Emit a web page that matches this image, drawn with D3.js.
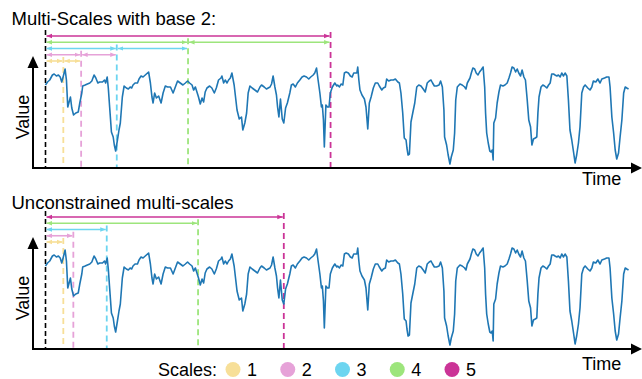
<!DOCTYPE html>
<html>
<head>
<meta charset="utf-8">
<script src="https://cdn.jsdelivr.net/npm/d3@7"></script>
<style>
  body { margin: 0; background: #fff; }
  text { font-family: "Liberation Sans", Arial, sans-serif; fill: #000; }
</style>
</head>
<body>
<svg id="chart" width="642" height="379"></svg>
<script>
// series (time steps, value above the axis)
const time = [
  0,0.9,1.9,3.1,3.9,4.9,5.8,6.6,7.3,7.9,8.8,9.4,10.0,10.6,11.2,11.8,12.6,13.6,14.7,15.4,
  16.3,16.7,17.8,18.8,19.9,20.8,21.8,22.6,23.5,24.3,25.6,26.5,27.0,27.7,28.2,28.8,29.6,30.4,30.9,31.5,
  32.3,33.0,33.6,34.5,35.3,36.3,37.2,38.0,38.7,39.3,40.2,41.3,42.0,42.9,
  43.8,44.8,46.3,47.1,47.8,48.3,49.0,49.8,50.8,51.9,52.8,53.8,54.8,56.1,57.3,58.3,59.3,60.5,61.7,62.8,
  63.8,64.7,65.8,66.5,67.3,68.0,68.7,69.5,70.3,71.0,71.7,72.5,73.7,74.7,75.8,76.7,77.7,78.8,79.2,80.0,
  80.7,81.5,82.2,83.0,83.7,84.7,86.0,87.0,
  88.0,88.6,89.5,90.3,91.0,91.8,92.8,94.0,95.2,96.3,97.0,98.2,99.2,100.8,101.5,102.2,103.0,103.7,104.2,104.8,
  105.5,106.3,107.0,107.8,108.6,109.7,110.4,111.2,112.2,113.1,114.2,115.2,116.1,117.2,118.2,119.1,120.2,120.9,121.7,122.4,
  123.2,123.9,124.3,124.8,125.2,125.9,126.6,127.3,127.9,128.8,129.9,130.8,
  131.2,132.0,132.7,133.5,134.2,135.0,136.0,136.9,137.7,138.4,139.1,139.8,140.2,140.7,141.2,142.1,143.2,143.9,144.7,145.4,
  146.2,147.2,148.1,149.2,149.9,151.0,151.7,152.6,153.2,154.1,155.1,156.2,157.1,158.2,158.9,159.6,160.4,161.1,161.9,162.3,
  162.8,163.4,164.1,164.9,165.8,166.7,167.6,168.6,169.6,170.5,171.4,172.3,173.1,173.8,174.6,
  175.6,176.7,177.4,178.2,178.9,179.2,180.1,180.8,181.6,182.2,183.1,183.7,184.2,184.9,186.1,187.1,188.2,188.8,189.4,190.6,
  191.2,191.9,192.7,193.4,194.2,194.9,195.6,196.5,197.2,197.6,198.1,198.8,199.5,200.1,200.6,201.0,201.3,202.1,202.8,203.6,
  204.3,205.4,206.3,207.3,208.1,208.8,209.5,210.3,211.1,211.8,212.5,213.3,214.0,214.8,215.5,216.3,217.0,217.8,218.4,
  219.1,219.9,220.6,221.1,221.6,222.5,223.3,224.1,225.1,225.9,226.6,227.3,228.1,228.8,229.6,230.3,231.1,231.8,232.6,233.3,
  234.1,234.8,235.5,236.3,237.1,237.8,238.5,239.3,240.0,240.8,241.6,242.3,243.5,244.5,245.3,246.0,247.1,248.0,249.0,249.8,
  251.0,252.0,253.0,253.5,254.3,255.1,255.8,256.5,257.3,258.0,258.8,259.6,260.3,261.0,261.8
];
const value = [
  83,86,88,93,94,92,93,91,86,91,99,88,61,66,71,60,53,55,56,65,
  75,82,83,84,85,87,93,90,85,86,86,88,85,91,80,61,36,31,23,17,
  28,38,45,71,82,80,79,81,80,83,85,85,89,92,
  91,93,96,85,71,65,75,70,72,65,75,82,81,81,75,81,87,85,83,85,
  87,85,83,78,81,76,71,64,70,66,76,80,82,80,75,80,88,90,92,85,
  88,85,88,90,95,83,58,49,
  51,38,45,55,75,82,80,78,76,81,83,81,79,81,84,92,81,73,61,51,
  69,49,45,60,65,75,83,84,81,85,88,91,92,91,89,91,93,95,100,88,
  75,61,63,48,21,63,61,61,75,81,85,82,
  83,81,84,83,95,96,95,92,91,95,95,95,101,88,78,73,69,61,39,65,
  71,80,85,85,82,78,80,81,89,87,88,88,89,86,85,75,55,30,28,20,
  13,14,46,55,65,81,83,82,79,76,85,87,88,85,82,
  82,83,87,81,58,31,23,13,4,11,18,35,68,81,84,83,81,79,85,90,
  95,100,99,95,93,96,98,101,81,55,35,25,17,16,18,8,45,50,65,76,
  83,82,83,85,90,95,101,100,96,99,95,92,98,91,88,68,48,41,23,
  29,30,31,55,71,81,83,82,80,83,85,94,94,93,92,93,91,95,92,95,
  92,68,38,28,16,5,13,25,41,75,81,83,80,78,81,87,86,89,85,89,
  90,91,91,81,51,35,18,9,15,31,48,75,81,80,79
];

const scaleNames = ["1", "2", "3", "4", "5"];
const scaleColors = ["#f7df98", "#e6a2d8", "#6dd5f0", "#9de57c", "#cb3497"];
const baseBounds = [8, 16, 32, 64, 128];       // base 2 window ends
const freeBounds = [8, 12.5, 27.5, 68.5, 107]; // unconstrained window ends
const titles = ["Multi-Scales with base 2:", "Unconstrained multi-scales"];
const axisLabels = ["Value", "Time"];
const legendTitle = "Scales:";

const svg = d3.select("#chart");
const series = time.map((t, i) => ({ t, v: value[i] }));

const x = d3.scaleLinear()
  .domain([0, 262])
  .range([45.5, 629]);

const panels = [
  { title: titles[0], bounds: baseBounds, chained: true, axisY: 168, titleY: 25, timeY: 185 },
  { title: titles[1], bounds: freeBounds, chained: false, axisY: 349, titleY: 209, timeY: 370 }
];

// arrow heads, one per scale colour
const defs = svg.append("defs");
scaleColors.forEach((c, i) => {
  defs.append("marker")
    .attr("id", "head-" + i)
    .attr("viewBox", "0 0 10 10")
    .attr("refX", 10)
    .attr("refY", 5)
    .attr("markerWidth", 5.5)
    .attr("markerHeight", 5.5)
    .attr("markerUnits", "userSpaceOnUse")
    .attr("orient", "auto-start-reverse")
    .append("path")
    .attr("d", "M0,1L10,5L0,9Z")
    .attr("fill", c);
});

panels.forEach(p => {
  const g = svg.append("g");
  const y = d3.scaleLinear()
    .domain([0, 111])
    .range([p.axisY, p.axisY - 111]);
  const arrowY = i => p.axisY - 107 - i * 6.25;

  g.append("text")
    .attr("x", 11.5)
    .attr("y", p.titleY)
    .style("font-size", "18.5px")
    .text(p.title);

  // start marker
  g.append("line")
    .attr("x1", x(0)).attr("x2", x(0))
    .attr("y1", p.axisY - 138).attr("y2", p.axisY)
    .attr("stroke", "#000")
    .attr("stroke-width", 1.6)
    .attr("stroke-dasharray", "5,3");

  // dashed window ends
  g.selectAll(".bound")
    .data(p.bounds)
    .enter()
    .append("line")
    .attr("class", "bound")
    .attr("x1", d => x(d)).attr("x2", d => x(d))
    .attr("y1", (d, i) => arrowY(i) - 4)
    .attr("y2", p.axisY)
    .attr("stroke", (d, i) => scaleColors[i])
    .attr("stroke-width", 1.8)
    .attr("stroke-dasharray", "6,4");

  // window arrows
  const segs = [];
  p.bounds.forEach((b, i) => {
    segs.push({ i, a: 0, b });
    if (p.chained && i < p.bounds.length - 1) segs.push({ i, a: b, b: p.bounds[i + 1] });
  });
  g.selectAll(".span")
    .data(segs)
    .enter()
    .append("line")
    .attr("class", "span")
    .attr("x1", d => x(d.a) + 1)
    .attr("x2", d => x(d.b) - 1)
    .attr("y1", d => arrowY(d.i))
    .attr("y2", d => arrowY(d.i))
    .attr("stroke", d => scaleColors[d.i])
    .attr("stroke-width", 1.6)
    .attr("marker-start", d => `url(#head-${d.i})`)
    .attr("marker-end", d => `url(#head-${d.i})`);

  g.append("path")
    .datum(series)
    .attr("fill", "none")
    .attr("stroke", "#1f77b4")
    .attr("stroke-width", 1.6)
    .attr("stroke-linejoin", "round")
    .attr("d", d3.line().x(d => x(d.t)).y(d => y(d.v)));

  // axes with arrow heads
  g.append("line")
    .attr("x1", 33).attr("x2", 632)
    .attr("y1", p.axisY).attr("y2", p.axisY)
    .attr("stroke", "#000").attr("stroke-width", 2);
  g.append("path")
    .attr("d", `M631,${p.axisY - 5.5}L642,${p.axisY}L631,${p.axisY + 5.5}Z`)
    .attr("fill", "#000");
  g.append("line")
    .attr("x1", 33).attr("x2", 33)
    .attr("y1", p.axisY + 1).attr("y2", p.axisY - 100)
    .attr("stroke", "#000").attr("stroke-width", 2);
  g.append("path")
    .attr("d", `M27.5,${p.axisY - 100}L33,${p.axisY - 112}L38.5,${p.axisY - 100}Z`)
    .attr("fill", "#000");

  g.append("text")
    .attr("transform", `translate(28.5,${p.axisY - 51}) rotate(-90)`)
    .attr("text-anchor", "middle")
    .style("font-size", "18px")
    .text(axisLabels[0]);
  g.append("text")
    .attr("x", 582)
    .attr("y", p.timeY)
    .style("font-size", "18px")
    .text(axisLabels[1]);
});

// legend
const lx = d3.scalePoint()
  .domain(scaleNames)
  .range([233, 452]);

svg.append("text")
  .attr("x", 217)
  .attr("y", 375.5)
  .attr("text-anchor", "end")
  .style("font-size", "18px")
  .text(legendTitle);

const item = svg.selectAll(".legend")
  .data(scaleNames)
  .enter()
  .append("g")
  .attr("class", "legend")
  .attr("transform", d => `translate(${lx(d)},369.5)`);
item.append("circle")
  .attr("r", 7.5)
  .attr("fill", (d, i) => scaleColors[i]);
item.append("text")
  .attr("x", 14)
  .attr("y", 6)
  .style("font-size", "18px")
  .text(d => d);
</script>
</body>
</html>
